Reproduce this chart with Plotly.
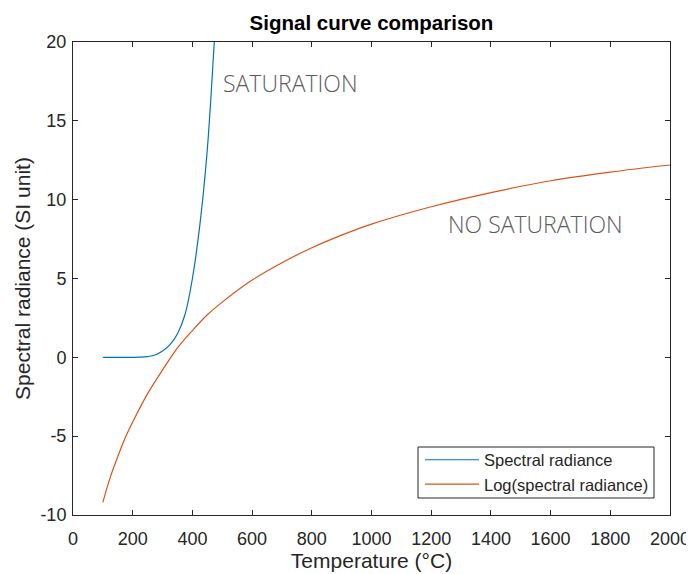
import plotly.graph_objects as go

# Spectral radiance (blue)
t_blue = [100, 150, 200, 225, 250, 275, 300, 325, 350, 375, 400, 425, 450, 475, 490]
y_blue = [0.0, 0.0, 0.0, 0.01, 0.05, 0.15, 0.4, 0.8, 1.5, 2.7, 5.0, 8.4, 13.2, 20.5, 25.0]

# Log(spectral radiance) (orange)
t_log = [100, 125, 150, 175, 200, 250, 300, 350, 400, 450, 500, 600, 700, 800, 900,
         1000, 1200, 1400, 1600, 1800, 2000]
y_log = [-9.2, -7.6, -6.3, -5.1, -4.1, -2.3, -0.8, 0.6, 1.7, 2.7, 3.5, 4.9, 6.0, 6.95, 7.75,
         8.45, 9.55, 10.45, 11.2, 11.75, 12.2]

x_ticks = [0, 200, 400, 600, 800, 1000, 1200, 1400, 1600, 1800, 2000]
y_ticks = [-10, -5, 0, 5, 10, 15, 20]
y_tick_labels = ["-10", "-5", "0", "5", "10", "15", "20"]

BLUE = "#0072BD"
ORANGE = "#D95319"
AX = "#262626"
FONT = "Liberation Sans, Arial, sans-serif"

# page body has an 8px margin; figure offset compensated in margins
W, H = 694, 566

fig = go.Figure()
fig.add_trace(go.Scatter(x=t_blue, y=y_blue, mode="lines", name="Spectral radiance",
                         line=dict(color=BLUE, width=1.2, shape="spline", smoothing=1.0)))
fig.add_trace(go.Scatter(x=t_log, y=y_log, mode="lines", name="Log(spectral radiance)",
                         line=dict(color=ORANGE, width=1.2, shape="spline", smoothing=1.0)))

axis_common = dict(showgrid=False, zeroline=False, showline=True, linecolor=AX, linewidth=1,
                   mirror="ticks", ticks="inside", ticklen=5, tickcolor=AX, automargin=False,
                   tickfont=dict(family=FONT, size=18, color=AX))
fig.update_xaxes(range=[0, 2000], tickvals=x_ticks, ticklabelstandoff=7, **axis_common,
                 title=dict(text="Temperature (°C)", font=dict(family=FONT, size=21, color=AX), standoff=4))
fig.update_yaxes(range=[-10, 20], tickvals=y_ticks, ticktext=y_tick_labels, ticklabelstandoff=2,
                 **axis_common,
                 title=dict(text="Spectral radiance (SI unit)", font=dict(family=FONT, size=21, color=AX), standoff=4))

fig.add_annotation(x=496, y=17.4, text="SATURATION", showarrow=False, xanchor="left", yanchor="middle",
                   font=dict(family="Open Sans, sans-serif", size=23, color="#5c5c5c", weight=300))
fig.add_annotation(x=1250, y=8.46, text="NO SATURATION", showarrow=False, xanchor="left", yanchor="middle",
                   font=dict(family="Open Sans, sans-serif", size=23, color="#5c5c5c", weight=300))

# legend frame (MATLAB-style box)
fig.add_shape(type="rect", xref="paper", yref="paper",
              x0=(418 - 73) / 597, x1=(654 - 73) / 597, y0=(515 - 498) / 473, y1=(515 - 447) / 473,
              line=dict(color=AX, width=1), fillcolor="white", layer="above")

fig.update_layout(
    width=W, height=H,
    margin=dict(l=65, r=32, t=34, b=59, autoexpand=False),
    paper_bgcolor="white", plot_bgcolor="white",
    title=dict(text="<b>Signal curve comparison</b>", x=(65 + 597 / 2) / W, xanchor="center",
               y=1 - 15 / H, yanchor="middle", font=dict(family=FONT, size=20.5, color="black")),
    legend=dict(x=(420 - 73) / 597, y=(515 - 472) / 473, xanchor="left", yanchor="middle",
                bgcolor="rgba(0,0,0,0)", borderwidth=0, itemwidth=54,
                font=dict(family=FONT, size=16.5, color=AX), tracegroupgap=0),
    showlegend=True,
)

fig.write_html("out.html")
